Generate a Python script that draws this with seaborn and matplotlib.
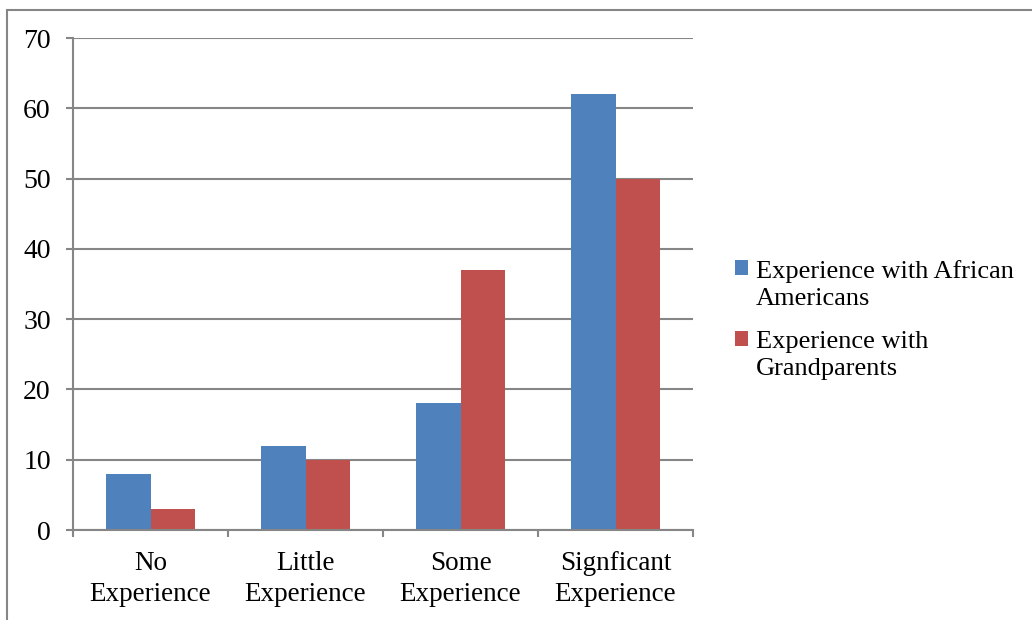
import numpy as np
import pandas as pd
import seaborn as sns
import matplotlib.pyplot as plt
from matplotlib.patches import Rectangle
from matplotlib.legend_handler import HandlerPatch

categories = ["No\nExperience", "Little\nExperience", "Some\nExperience", "Signficant\nExperience"]
series_names = ["Experience with African\nAmericans", "Experience with\nGrandparents"]
african_americans = [8, 12, 18, 62]
grandparents = [3, 10, 37, 50]
y_ticks = [0, 10, 20, 30, 40, 50, 60, 70]

df = pd.DataFrame({
    "category": categories * 2,
    "series": [series_names[0]] * 4 + [series_names[1]] * 4,
    "value": african_americans + grandparents,
})

sns.set_theme(style="white")
plt.rcParams["font.family"] = ["Liberation Serif", "DejaVu Serif"]

grid_col = "#868686"
fig = plt.figure(figsize=(10.32, 6.2), dpi=100)
ax = fig.add_axes([73 / 1032, 1 - 530 / 620, 620 / 1032, 492 / 620])

sns.barplot(data=df, x="category", y="value", hue="series",
            palette=["#4F81BD", "#C0504D"], width=0.57, saturation=1,
            linewidth=0, edgecolor="none", ax=ax, legend=True)

ax.set_xlim(-0.5, 3.5)
ax.set_ylim(0, 70)
ax.set_yticks(y_ticks)
ax.set_xlabel("")
ax.set_ylabel("")
ax.yaxis.grid(True, color=grid_col, linewidth=1.5)
ax.set_axisbelow(True)
for s in ["top", "right"]:
    ax.spines[s].set_visible(False)
for s in ["left", "bottom"]:
    ax.spines[s].set_color(grid_col)
    ax.spines[s].set_linewidth(1.5)

ax.tick_params(axis="y", length=5, width=1.5, color=grid_col, pad=11, labelsize=20, left=True)
ax.tick_params(axis="x", which="major", length=0, pad=15, labelsize=19.5)
ax.set_xticks(np.arange(-0.5, 4, 1), minor=True)
ax.tick_params(axis="x", which="minor", length=5, width=1.5, color=grid_col, bottom=True)
for lab in ax.get_yticklabels():
    lab.set_color("black")
for lab in ax.get_xticklabels():
    lab.set_color("black")
    lab.set_linespacing(1.35)


def top_square(legend, orig_handle, xdescent, ydescent, width, height, fontsize):
    return Rectangle((-xdescent, -ydescent + 0.62 * fontsize), width, height)


handles, labels = ax.get_legend_handles_labels()
leg = ax.legend(handles, labels, loc="center left", bbox_to_anchor=(735 / 1032, 1 - 320 / 620),
                bbox_transform=fig.transFigure, frameon=False, fontsize=19,
                handlelength=0.5, handleheight=0.5, handletextpad=0.3,
                labelspacing=0.8, borderaxespad=0, borderpad=0,
                handler_map={Rectangle: HandlerPatch(patch_func=top_square)})
for t in leg.get_texts():
    t.set_linespacing(1.3)
    t.set_color("black")

fig.add_artist(Rectangle((7 / 1032, -0.1), 1.2, 1.1 - 10 / 620,
                         transform=fig.transFigure, fill=False,
                         edgecolor=grid_col, linewidth=1.5))

fig.savefig("out.png", dpi=100)
